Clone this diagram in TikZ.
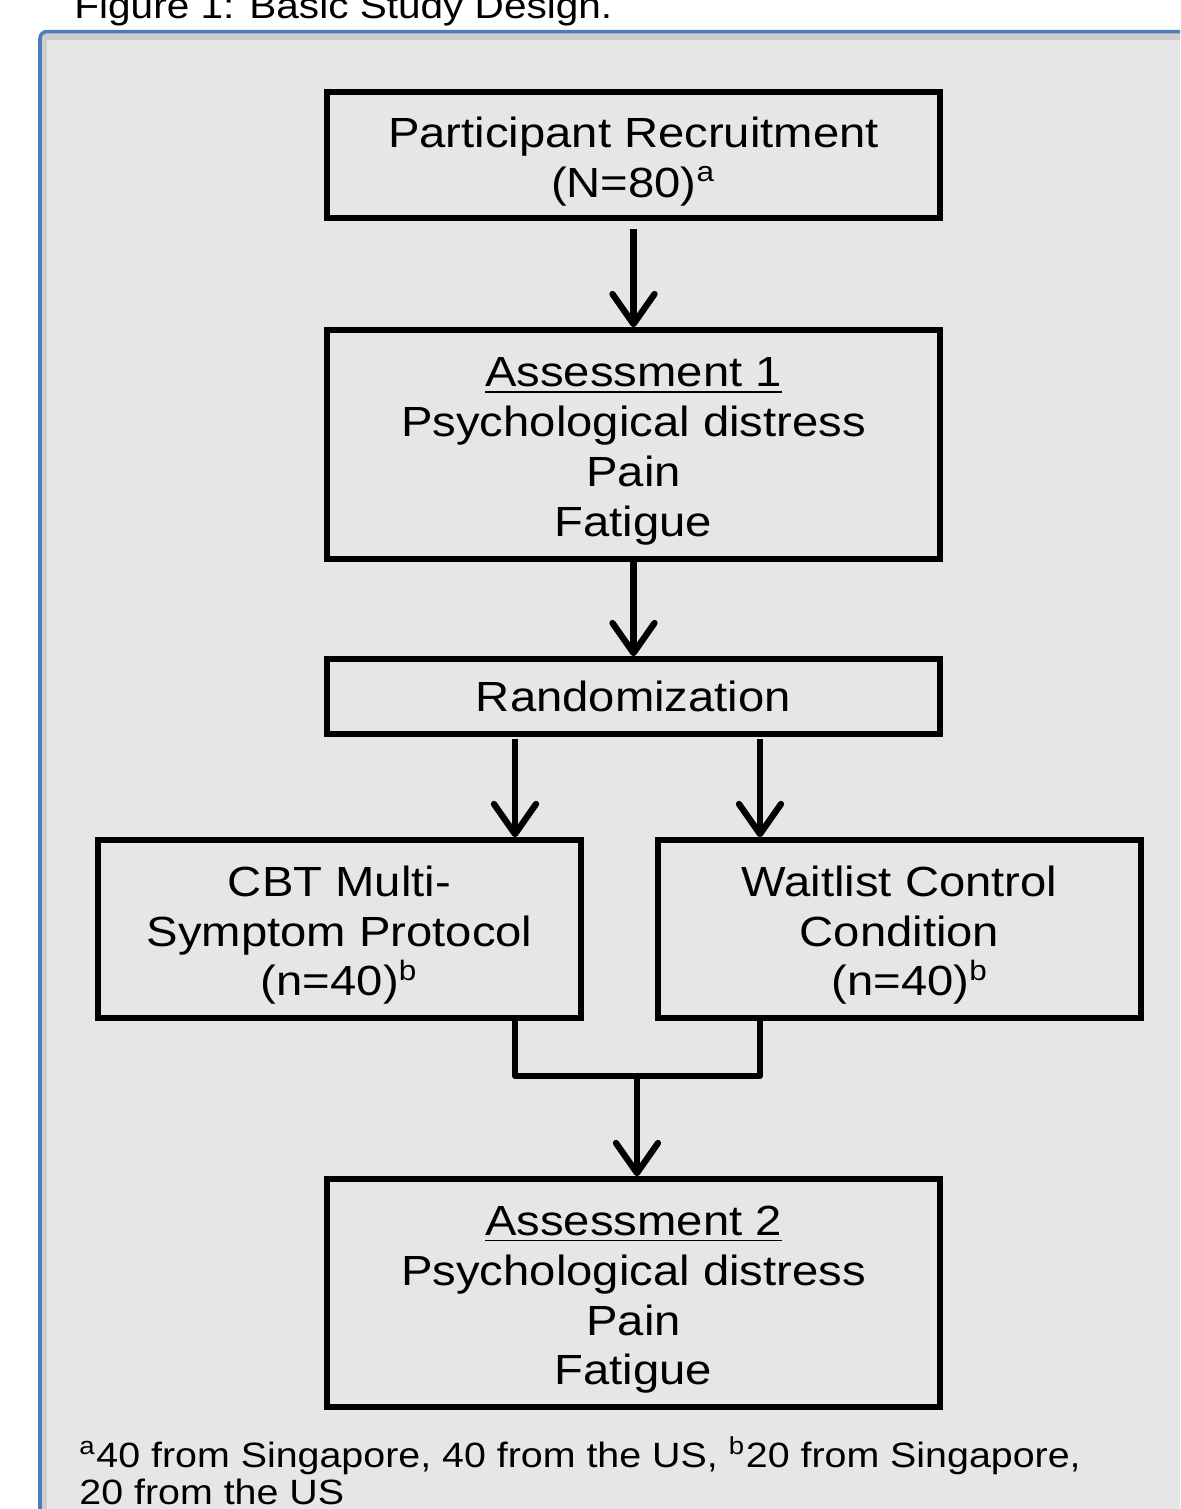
\documentclass[tikz,border=0pt]{standalone}
\usepackage{fontspec}
\setmainfont{Liberation Sans}[FakeStretch=1.12]
\usepackage{tikz}
\usetikzlibrary{calc}
\usetikzlibrary{positioning}
\usetikzlibrary{arrows.meta}
\definecolor{panelgray}{RGB}{230,230,230}
\definecolor{edgeshade}{RGB}{205,205,205}
\definecolor{framecolor}{RGB}{74,126,187}
\newcommand{\linedrop}{\rule{0pt}{12.2pt}}
\tikzstyle{stagebox} = [draw, line width=1.6pt, minimum width=6.13cm, align=center, font=\fontsize{12}{14.2}\selectfont]
\tikzstyle{armbox} = [stagebox, minimum width=4.83cm, minimum height=1.78cm]
\tikzstyle{flowline} = [line width=1.8pt]
\tikzstyle{flowarrow} = [flowline, -{Straight Barb[length=3mm, width=4.2mm, round]}]

\begin{document}
\begin{tikzpicture}
    \useasboundingbox (0,0) rectangle (11.8,-15.09);
    \clip (0,0) rectangle (11.8,-15.09);

    \fill[panelgray] (0.40,-0.315) rectangle (12.5,-16);
    \fill[edgeshade] (0.42,-0.33) rectangle (12.5,-0.40);
    \fill[edgeshade] (0.42,-0.33) rectangle (0.47,-16);
    \draw[framecolor, line width=1pt, rounded corners=2pt] (12.5,-0.315) -- (0.40,-0.315) -- (0.40,-16);

    \node[anchor=base west, font=\fontsize{10.3}{12}\selectfont] (title) at (0.62,-0.185) {Figure 1: Basic Study Design.};

    \node[stagebox, minimum height=1.26cm] (recruit) at (6.335,-1.55) {\linedrop Participant Recruitment\\(N=80)\textsuperscript{a}};
    \node[stagebox, minimum height=2.29cm] (assess_one) at ($(recruit)+(0,-2.895)$) {\linedrop\underline{Assessment 1}\\Psychological distress\\Pain\\Fatigue};
    \node[stagebox, minimum height=0.75cm] (rand) at ($(assess_one)+(0,-2.52)$) {Randomization};
    \node[armbox] (cbt) at ($(rand)+(-2.94,-2.325)$) {\linedrop CBT Multi-\\Symptom Protocol\\(n=40)\textsuperscript{b}};
    \node[armbox] (wait) at ($(rand)+(2.66,-2.325)$) {\linedrop Waitlist Control\\Condition\\\hspace{0.5em}(n=40)\textsuperscript{b}};
    \node[stagebox, minimum height=2.28cm] (assess_two) at ($(rand)+(0,-5.965)$) {\linedrop\underline{Assessment 2}\\Psychological distress\\Pain\\Fatigue};

    \node[anchor=base west, align=left, font=\fontsize{10}{10.5}\selectfont] (note) at (0.67,-15.04) {\textsuperscript{a}40 from Singapore, 40 from the US, \textsuperscript{b}20 from Singapore,\\20 from the US};

    \coordinate (split_l) at ($(rand.south)+(-1.185,-0.02)$);
    \coordinate (split_r) at ($(rand.south)+(1.265,-0.02)$);
    \coordinate (join) at ($(rand.south)+(0.035,-3.39)$);

    \draw[flowarrow] ($(recruit.south)+(0,-0.08)$) -- (assess_one.north);
    \draw[flowarrow] (assess_one.south) -- (rand.north);
    \draw[flowarrow] (split_l) -- (split_l |- cbt.north);
    \draw[flowarrow] (split_r) -- (split_r |- wait.north);
    \draw[flowline, line join=round] (split_l |- cbt.south) |- (join) -| (split_r |- wait.south);
    \draw[flowarrow] (join) -- (join |- assess_two.north);
\end{tikzpicture}
\end{document}
